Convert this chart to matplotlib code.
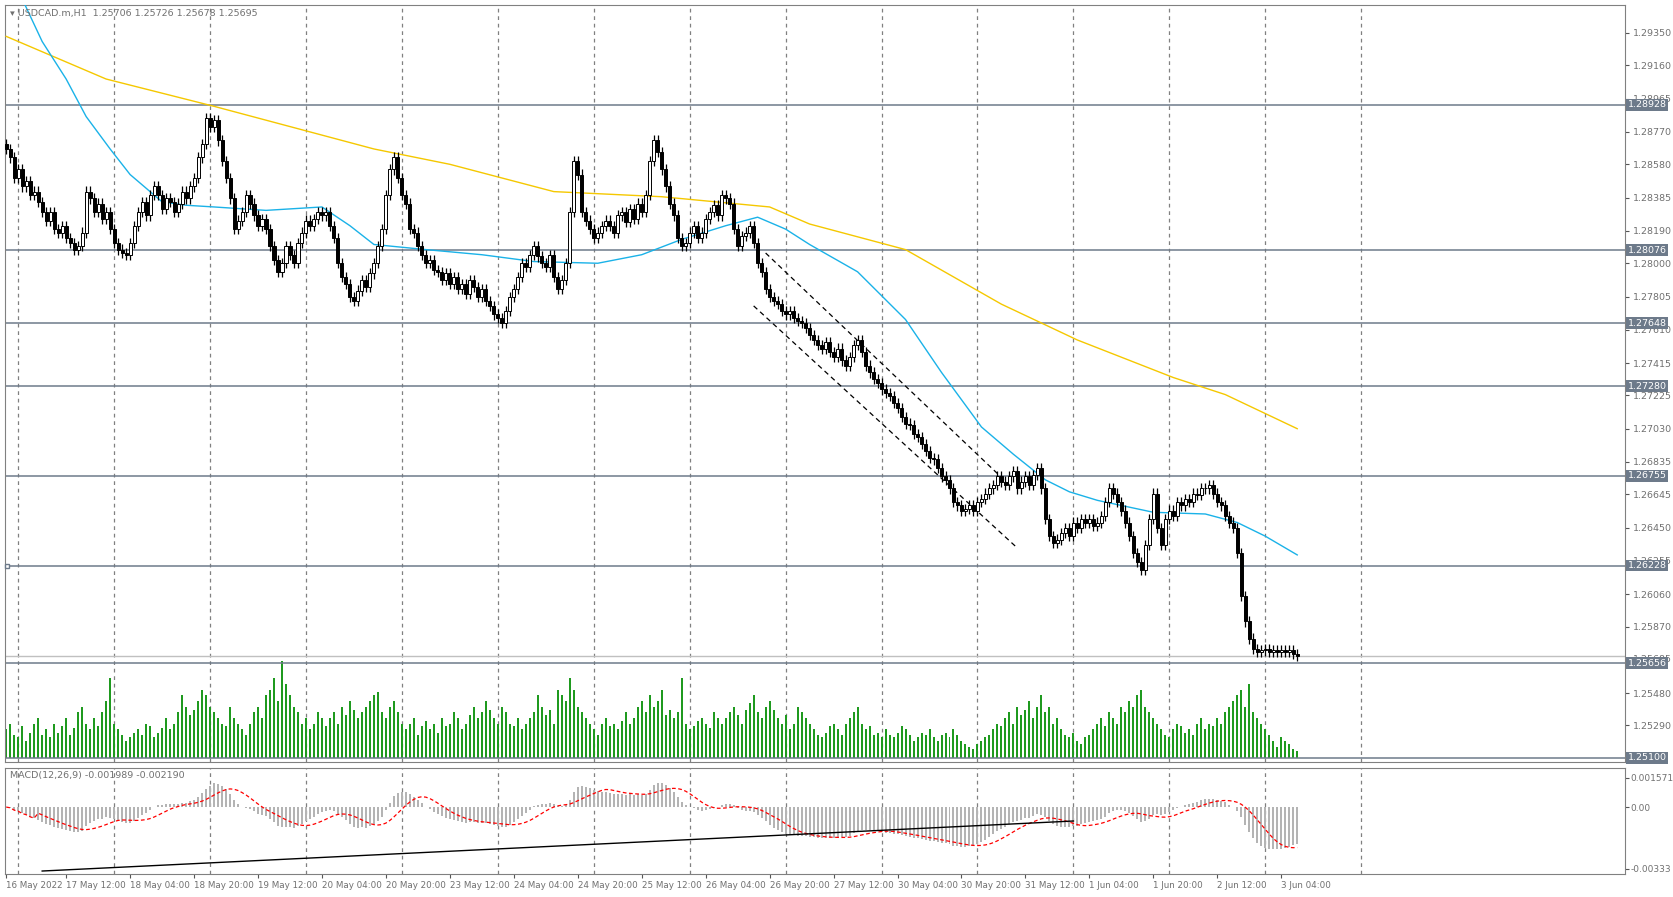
import numpy as np
import matplotlib
matplotlib.use("Agg")
import matplotlib.pyplot as plt
from matplotlib.patches import Rectangle

# closes in pips above 1.25000
close_pips = [
367,362,350,355,345,348,340,342,336,330,
325,330,320,318,322,315,312,308,310,318,
342,338,330,335,326,330,320,312,308,306,
305,312,322,330,336,328,340,345,340,332,
338,336,330,335,342,338,345,350,362,370,
385,380,384,372,360,350,338,320,325,330,
340,335,328,322,326,320,310,302,295,300,
310,305,300,312,318,325,322,326,330,328,
330,322,315,300,292,288,280,278,284,290,
286,294,300,310,320,340,355,362,350,340,
335,320,318,310,305,300,302,296,295,290,
294,288,292,285,288,282,290,286,280,285,
278,275,270,268,265,272,280,285,292,300,
298,305,310,304,300,298,305,292,285,290,
300,330,360,352,330,325,320,315,318,322,
325,322,318,328,330,324,332,326,335,330,
340,360,372,365,355,345,335,328,315,310,
312,318,322,315,318,326,330,334,328,340,
338,335,320,310,316,318,322,312,300,295,
285,280,278,276,272,270,272,268,266,265,
262,258,255,252,250,254,248,245,250,243,
240,245,252,255,248,240,236,232,230,226,
224,222,218,215,210,206,205,200,198,194,
190,186,185,180,175,173,168,160,158,155,
156,158,155,160,162,165,168,170,175,172,
170,175,178,168,172,175,170,176,180,168,
150,140,136,138,142,145,140,148,145,150,
148,150,146,148,152,160,168,165,160,155,
148,140,130,125,120,135,150,165,145,135,
150,155,152,160,158,162,160,165,164,168,
168,170,165,160,158,152,148,145,130,105,
90,80,74,72,73,74,72,73,72,73,
72,73,71,70]

volume_px = [
25,30,20,18,28,15,22,30,35,20, 25,18,30,22,28,35,20,26,40,45,
30,25,35,28,40,50,70,30,25,20, 15,18,22,25,20,30,28,18,22,26,
35,25,30,40,55,45,38,42,50,60, 55,45,40,35,30,28,45,35,30,25,
20,30,40,45,35,55,60,70,50,85, 65,55,45,40,30,35,25,30,40,35,
28,35,40,30,45,38,50,42,35,40, 45,50,55,58,40,35,45,50,40,30,
25,30,35,20,28,32,25,30,22,35, 28,30,40,35,25,30,38,45,35,40,
50,42,35,30,45,40,30,28,35,25, 30,35,40,55,45,38,42,30,60,55,
50,70,60,45,40,35,30,25,20,30, 35,28,30,25,32,40,30,35,45,50,
40,55,45,50,60,38,42,35,40,70, 30,25,28,32,35,30,26,40,35,30,
35,40,45,38,30,42,48,55,40,35, 45,50,42,35,30,38,25,30,45,40,
35,30,25,20,18,22,28,30,25,20, 30,35,40,45,30,25,28,20,22,18,
25,20,18,22,28,25,20,15,18,22, 20,25,18,15,20,22,18,25,20,15,
12,10,8,12,15,18,20,25,30,28, 35,40,30,45,38,42,50,35,45,55,
40,45,30,35,25,20,18,22,15,12, 18,20,25,30,35,28,40,35,30,45,
40,50,45,55,60,45,40,35,30,25, 20,18,25,30,28,22,25,20,30,35,
25,30,28,35,30,40,45,50,55,60, 45,65,40,35,30,25,20,15,10,18,
15,12,8,6]

ma_fast_x = [4,9,15,20,26,31,39,45,52,65,79,86,92,105,119,132,148,159,169,180,188,195,201,213,225,234,244,252,260,266,273,287,300,308,315,323]
ma_fast_p = [455,430,408,386,367,352,336,334,333,331,333,322,311,308,305,301,300,305,314,322,327,320,311,295,267,236,204,188,173,166,161,154,153,148,140,129]
ma_slow_x = [0,25,52,92,111,137,164,191,201,225,249,268,292,305,323]
ma_slow_p = [433,408,392,367,358,342,339,333,323,308,276,255,233,223,203]

levels = [1.28928,1.28076,1.27648,1.27280,1.26755,1.26228,1.25656,1.25100]
ytick_vals = [1.29350,1.29160,1.28965,1.28770,1.28580,1.28385,1.28190,1.28000,1.27805,
              1.27610,1.27415,1.27225,1.27030,1.26835,1.26645,1.26450,1.26255,1.26060,
              1.25870,1.25685,1.25480,1.25290]
date_labels = ["17 May 12:00","18 May 04:00","18 May 20:00","19 May 12:00","20 May 04:00",
               "20 May 20:00","23 May 12:00","24 May 04:00","24 May 20:00","25 May 12:00",
               "26 May 04:00","26 May 20:00","27 May 12:00","30 May 04:00","30 May 20:00",
               "31 May 12:00","1 Jun 04:00","1 Jun 20:00","2 Jun 12:00","3 Jun 04:00"]

W, H = 1673, 897
fig = plt.figure(figsize=(W/100, H/100), dpi=100)
fig.patch.set_facecolor("white")
def fx(x): return x / W
def fy(y): return 1 - y / H
ax = fig.add_axes([fx(5), fy(762), fx(1620), fy(5) - fy(762)])
axm = fig.add_axes([fx(5), fy(874), fx(1620), fy(768) - fy(874)], sharex=ax)

closes = 1.25 + np.array(close_pips) / 10000.0
n = len(closes)
opens = np.concatenate([[closes[0] + 0.0003], closes[:-1]])
idx = np.arange(n)
wick = 0.0003
highs = np.maximum(opens, closes) + wick
lows = np.minimum(opens, closes) - wick

gc = "#808080"
for g in range(3, 345, 24):
    ax.axvline(g, color=gc, ls=(0, (3, 3)), lw=0.9, zorder=0)
    axm.axvline(g, color=gc, ls=(0, (3, 3)), lw=0.9, zorder=0)

vol = np.array(volume_px) * 6.256e-5 * 1.0677
ax.bar(idx, vol, bottom=1.25100, width=0.5, color="#1f9a1f", zorder=1, antialiased=False)

for lv in levels:
    ax.axhline(lv, color="#6d7a8a", lw=1.1, zorder=2)
ax.axhline(1.25695, color="#c0c0c0", lw=1.0, zorder=2)
ax.plot([0.3], [1.26228], marker="s", ms=3.5, mfc="white", mec="#6d7a8a", zorder=3, clip_on=False)

ax.plot(np.array(ma_slow_x), 1.25 + np.array(ma_slow_p) / 1e4, color="#f5c800", lw=1.0, zorder=3)
ax.plot(np.array(ma_fast_x), 1.25 + np.array(ma_fast_p) / 1e4, color="#1ab2e8", lw=1.0, zorder=3)

for i in range(n):
    ax.vlines(i, lows[i], highs[i], color="black", lw=0.9, zorder=4)
    o, c = opens[i], closes[i]
    bull = c >= o
    ax.add_patch(Rectangle((i - 0.38, min(o, c)), 0.76, max(abs(c - o), 0.00004),
                           facecolor="white" if bull else "black", edgecolor="black",
                           lw=0.7, zorder=5))

ax.plot([190, 251], [1.25 + 306/1e4, 1.25 + 170/1e4], color="black", ls=(0, (4, 3)), lw=0.9, zorder=6)
ax.plot([187, 253], [1.25 + 275/1e4, 1.25 + 133/1e4], color="black", ls=(0, (4, 3)), lw=0.9, zorder=6)

ax.set_xlim(-0.3, 405)
ax.set_ylim(1.25076, 1.29514)
ax.yaxis.tick_right()
ax.set_yticks(ytick_vals)
ax.set_yticklabels([f"{v:.5f}" for v in ytick_vals])
ax.tick_params(axis="y", labelsize=6.8, colors="#555555", labelcolor="#707070", length=3, pad=3)
ax.tick_params(axis="x", bottom=False, labelbottom=False)
for lv in levels:
    ax.text(1.0015, lv, f"{lv:.5f}", transform=ax.get_yaxis_transform(), va="center", ha="left",
            fontsize=6.8, color="white", zorder=10, clip_on=False,
            bbox=dict(boxstyle="square,pad=0.15", fc="#6d7a8a", ec="none"))
for s in ax.spines.values():
    s.set_color("#808080")
ax.text(0.003, 0.995, "\u25BE USDCAD.m,H1  1.25706 1.25726 1.25678 1.25695", transform=ax.transAxes,
        va="top", ha="left", fontsize=6.8, color="#707070")

def ema(x, p):
    a = 2 / (p + 1)
    out = np.empty_like(x)
    out[0] = x[0]
    for k in range(1, len(x)):
        out[k] = a * x[k] + (1 - a) * out[k - 1]
    return out
macd = ema(closes, 12) - ema(closes, 26)
sig = np.convolve(macd, np.ones(9) / 9, mode="full")[:n]
sig[:8] = macd[:8]
axm.bar(idx, macd, width=0.5, color="#b4b4b4", zorder=2, antialiased=False)
axm.plot(idx, sig, color="red", ls=(0, (3, 2)), lw=0.9, zorder=3)
axm.plot([9, 267], [-0.00344, -0.00075], color="black", lw=1.0, zorder=4)
axm.set_ylim(-0.0036, 0.0021)
axm.yaxis.tick_right()
axm.set_yticks([0.001571, 0.0, -0.00333])
axm.set_yticklabels(["0.001571", "0.00", "-0.00333"])
axm.tick_params(axis="y", labelsize=6.5, colors="#555555", labelcolor="#707070", length=3, pad=1)
axm.set_xticks([0] + [15 + 16 * k for k in range(len(date_labels))])
axm.set_xticklabels(["16 May 2022"] + date_labels, ha="left")
axm.tick_params(axis="x", labelsize=6.3, labelcolor="#707070", colors="#555555", length=3, pad=2)
for s in axm.spines.values():
    s.set_color("#808080")
axm.text(0.003, 0.97, "MACD(12,26,9) -0.001989 -0.002190", transform=axm.transAxes,
         va="top", ha="left", fontsize=6.8, color="#707070")

fig.savefig("out.png", dpi=100, facecolor="white")
